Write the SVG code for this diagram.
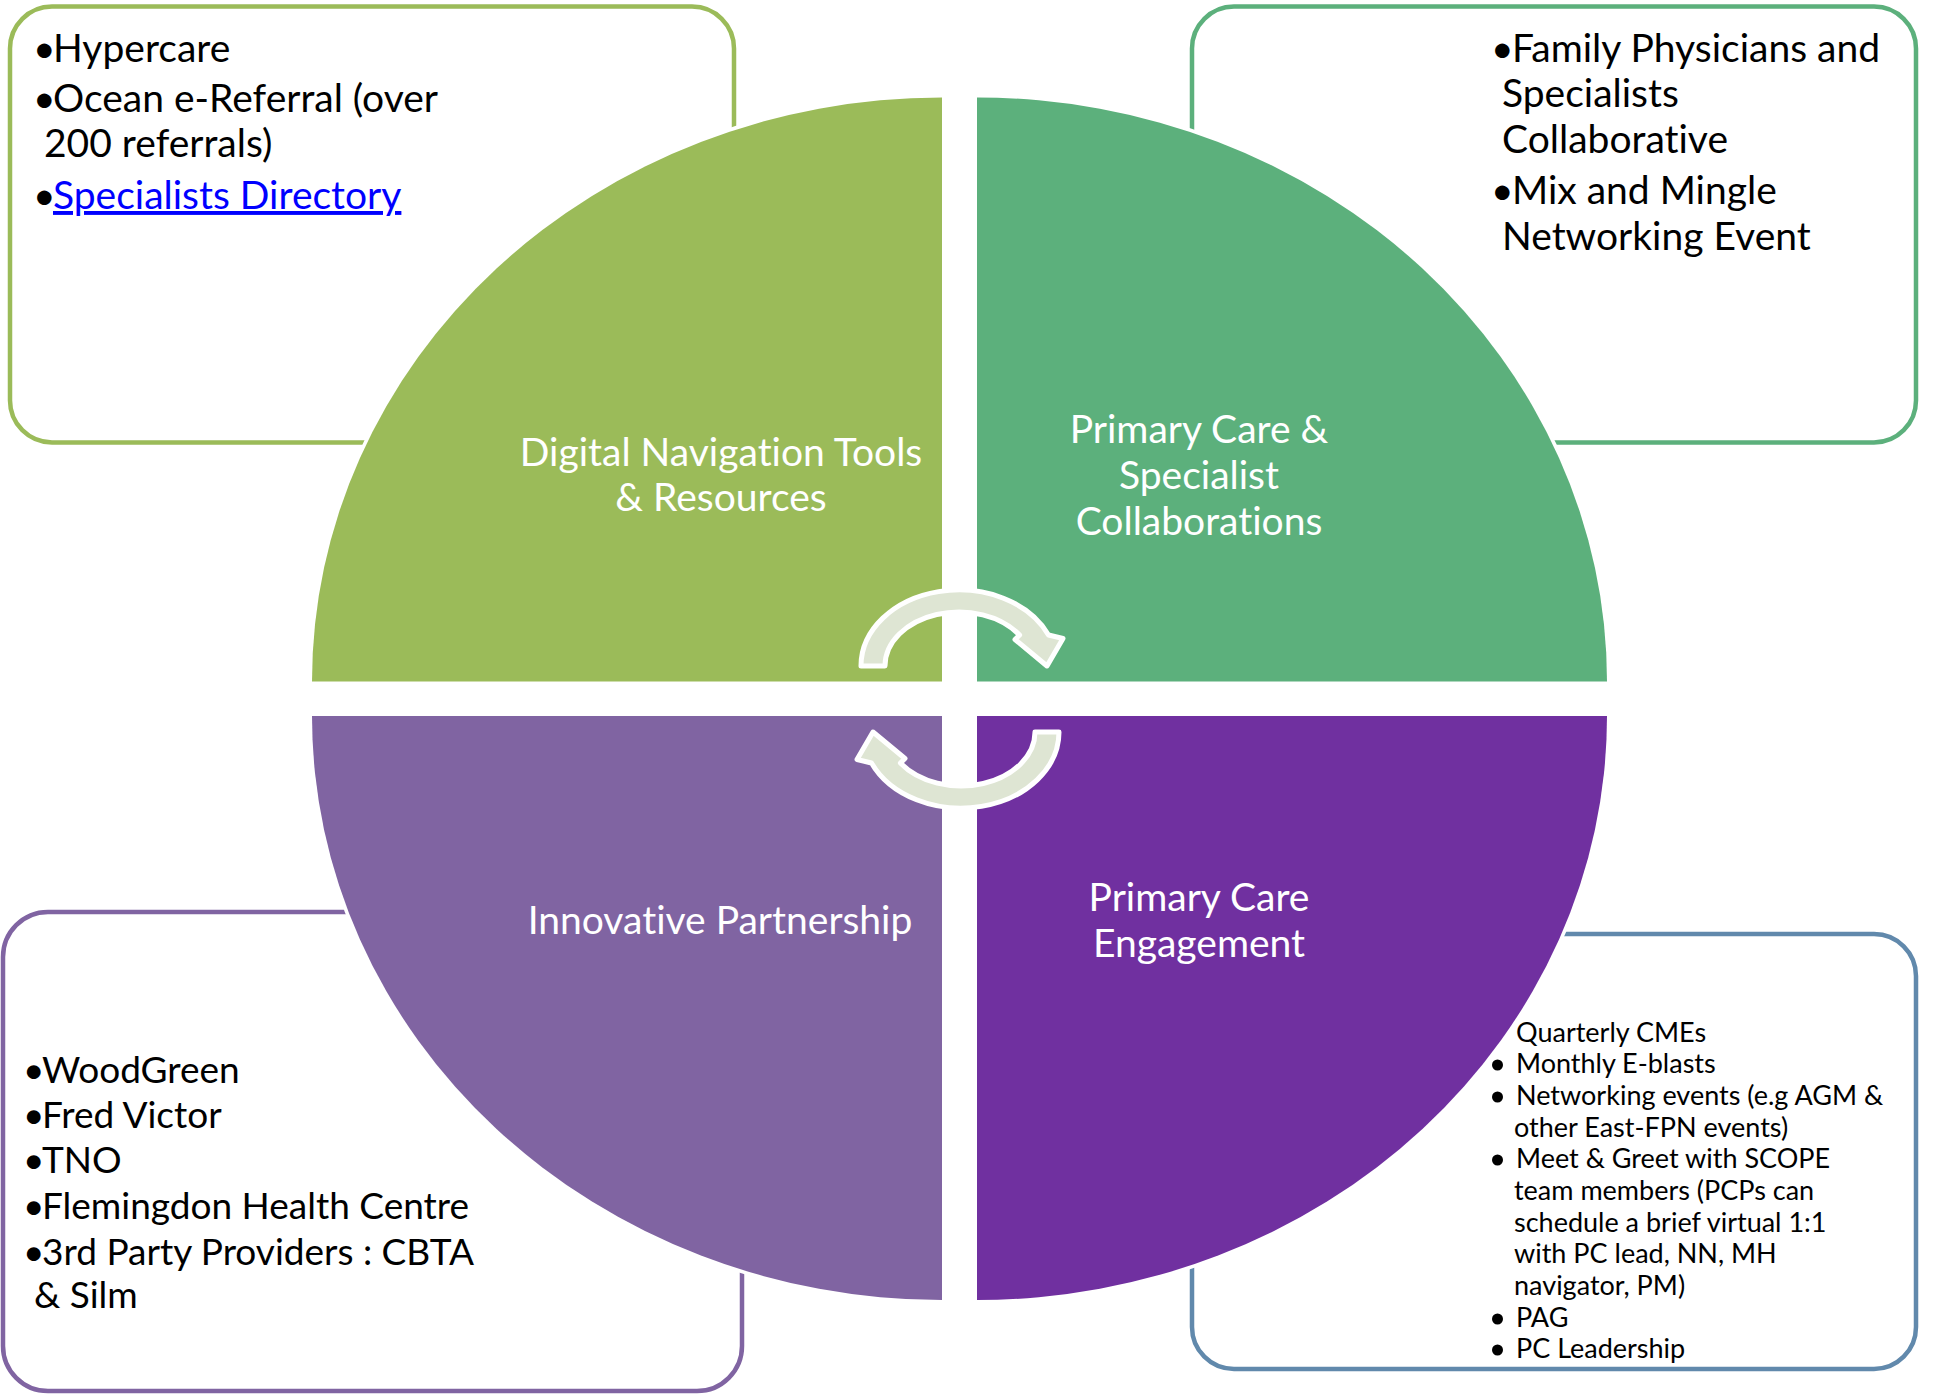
<svg xmlns="http://www.w3.org/2000/svg" width="1936" height="1394" viewBox="0 0 1936 1394">
<style>
text{font-variant-ligatures:none}
.box{fill:#FFFFFF;stroke-width:4.5}
.halo{fill:#FFFFFF;stroke:#FFFFFF;stroke-width:7}
.t{font-family:Lato,"Open Sans","Liberation Sans",sans-serif;fill:#000000;font-size:39px}
.tb{font-family:Lato,"Open Sans","Liberation Sans",sans-serif;fill:#000000;font-size:37px}
.ts{font-family:Lato,"Open Sans","Liberation Sans",sans-serif;fill:#000000;font-size:27px}
.lbl{font-family:Lato,"Open Sans","Liberation Sans",sans-serif;fill:#FFFFFF;font-size:39px;text-anchor:middle}
.arr{fill:#DEE5D3;stroke:#FFFFFF;stroke-width:5;stroke-linejoin:round}
</style>
<defs>
<path id="qTL" d="M942,681.5 L312,681.5 A630,584 0 0 1 942,97.5 Z"/>
<path id="qTR" d="M977,681.5 L977,97.5 A630,584 0 0 1 1607,681.5 Z"/>
<path id="qBL" d="M942,716 L942,1300 A630,584 0 0 1 312,716 Z"/>
<path id="qBR" d="M977,716 L1607,716 A630,584 0 0 1 977,1300 Z"/>
<path id="arrowShape" d="M861,666 A98,76 0 0 1 1048.5,635 L1063,638.5 L1047,666 L1015,639.5 L1019.6,635 A74,54 0 0 0 885,666 Z"/>
</defs>
<rect width="1936" height="1394" fill="#FFFFFF"/>
<g id="box-digital">
<rect class="box" x="10" y="6.5" width="724" height="436" rx="42" stroke="#9BBB59"/>
<text class="t" y="62"><tspan x="33">•</tspan><tspan x="53">Hypercare</tspan></text>
<text class="t" y="112"><tspan x="33">•</tspan><tspan x="53">Ocean e-Referral (over</tspan></text>
<text class="t" x="44" y="157">200 referrals)</text>
<text class="t" y="209"><tspan x="33">•</tspan><tspan x="53" fill="#0000FF" text-decoration="underline">Specialists Directory</tspan></text>
</g>
<g id="box-collab">
<rect class="box" x="1192" y="6.5" width="724" height="436" rx="42" stroke="#5CB07C"/>
<text class="t" y="62"><tspan x="1491">•</tspan><tspan x="1512">Family Physicians and</tspan></text>
<text class="t" x="1502" y="107">Specialists</text>
<text class="t" x="1502" y="153">Collaborative</text>
<text class="t" y="204"><tspan x="1491">•</tspan><tspan x="1512">Mix and Mingle</tspan></text>
<text class="t" x="1502" y="250">Networking Event</text>
</g>
<g id="box-partner">
<rect class="box" x="3" y="912" width="739" height="479" rx="45" stroke="#8064A2"/>
<text class="tb" y="1083"><tspan x="23">•</tspan><tspan x="42">WoodGreen</tspan></text>
<text class="tb" y="1128"><tspan x="23">•</tspan><tspan x="42">Fred Victor</tspan></text>
<text class="tb" y="1173"><tspan x="23">•</tspan><tspan x="42">TNO</tspan></text>
<text class="tb" y="1219"><tspan x="23">•</tspan><tspan x="42">Flemingdon Health Centre</tspan></text>
<text class="tb" y="1265"><tspan x="23">•</tspan><tspan x="42">3rd Party Providers : CBTA</tspan></text>
<text class="tb" x="34" y="1308">&amp; Silm</text>
</g>
<g id="box-engage">
<rect class="box" x="1192" y="934" width="724" height="435" rx="42" stroke="#6189AC"/>
<text class="ts" x="1516" y="1042">Quarterly CMEs</text>
<circle cx="1497.5" cy="1065" r="5.5" fill="#000000"/>
<text class="ts" x="1516" y="1073">Monthly E-blasts</text>
<circle cx="1497.5" cy="1097" r="5.5" fill="#000000"/>
<text class="ts" x="1516" y="1105">Networking events (e.g AGM &amp;</text>
<text class="ts" x="1514" y="1137">other East-FPN events)</text>
<circle cx="1497.5" cy="1160" r="5.5" fill="#000000"/>
<text class="ts" x="1516" y="1168">Meet &amp; Greet with SCOPE</text>
<text class="ts" x="1514" y="1200">team members (PCPs can</text>
<text class="ts" x="1514" y="1232">schedule a brief virtual 1:1</text>
<text class="ts" x="1514" y="1263">with PC lead, NN, MH</text>
<text class="ts" x="1514" y="1295">navigator, PM)</text>
<circle cx="1497.5" cy="1319" r="5.5" fill="#000000"/>
<text class="ts" x="1516" y="1327">PAG</text>
<circle cx="1497.5" cy="1350" r="5.5" fill="#000000"/>
<text class="ts" x="1516" y="1358">PC Leadership</text>
</g>
<g id="q-digital">
<use href="#qTL" class="halo"/>
<use href="#qTL" fill="#9BBB59"/>
<text class="lbl" x="721" y="466">Digital Navigation Tools</text>
<text class="lbl" x="721" y="511">&amp; Resources</text>
</g>
<g id="q-collab">
<use href="#qTR" class="halo"/>
<use href="#qTR" fill="#5CB07C"/>
<text class="lbl" x="1199" y="443">Primary Care &amp;</text>
<text class="lbl" x="1199" y="489">Specialist</text>
<text class="lbl" x="1199" y="535">Collaborations</text>
</g>
<g id="q-partner">
<use href="#qBL" class="halo"/>
<use href="#qBL" fill="#8064A2"/>
<text class="lbl" x="720" y="934">Innovative Partnership</text>
</g>
<g id="q-engage">
<use href="#qBR" class="halo"/>
<use href="#qBR" fill="#7030A0"/>
<text class="lbl" x="1199" y="911">Primary Care</text>
<text class="lbl" x="1199" y="957">Engagement</text>
</g>
<g id="connectors">
<use id="arrow-top" href="#arrowShape" class="arr"/>
<use id="arrow-bottom" href="#arrowShape" class="arr" transform="rotate(180 960 699)"/>
</g>
</svg>
